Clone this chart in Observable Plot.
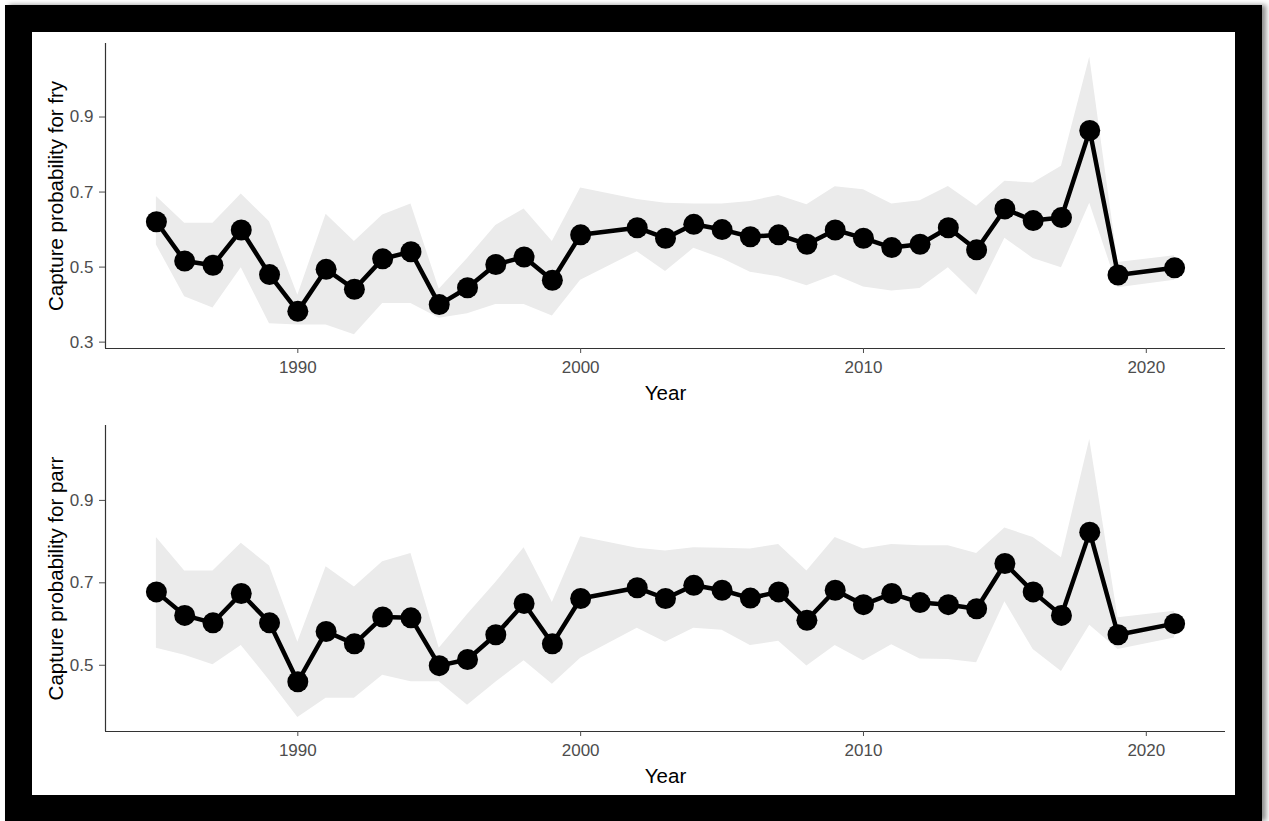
<!DOCTYPE html>
<html><head><meta charset="utf-8">
<script src="https://cdn.jsdelivr.net/npm/d3@7"></script>
<script src="https://cdn.jsdelivr.net/npm/@observablehq/plot@0.6"></script>
<style>
html,body{margin:0;padding:0;background:#fff;width:1269px;height:821px;overflow:hidden;}
#frame{position:absolute;left:5px;top:5px;width:1257px;height:816px;background:#000;box-shadow:4px 0 5px rgba(0,0,0,0.45);}
#panel{position:absolute;left:32px;top:32px;width:1203px;height:763px;background:#fff;}
#top{position:absolute;left:0;top:0;}
#bottom{position:absolute;left:0;top:378px;}
svg{font-family:"Liberation Sans",Arial,sans-serif;}
</style></head><body>
<div id="frame"></div>
<div id="panel"><div id="top"></div><div id="bottom"></div></div>
<script>
const years = [1985,1986,1987,1988,1989,1990,1991,1992,1993,1994,1995,1996,1997,1998,1999,2000,
  2002,2003,2004,2005,2006,2007,2008,2009,2010,2011,2012,2013,2014,2015,2016,2017,2018,2019,2021];

const fryMean  = [0.621,0.516,0.505,0.599,0.480,0.382,0.494,0.441,0.522,0.541,0.400,0.445,0.507,0.527,0.465,0.586,
  0.605,0.577,0.614,0.600,0.581,0.586,0.561,0.599,0.577,0.552,0.561,0.605,0.546,0.655,0.624,0.632,0.864,0.479,0.498];
const fryLower = [0.559,0.421,0.391,0.498,0.349,0.346,0.346,0.320,0.403,0.403,0.364,0.376,0.400,0.400,0.370,0.465,
  0.541,0.488,0.550,0.523,0.486,0.474,0.450,0.479,0.447,0.436,0.443,0.498,0.425,0.577,0.523,0.498,0.670,0.445,0.465];
const fryUpper = [0.688,0.617,0.617,0.695,0.621,0.425,0.641,0.568,0.639,0.668,0.441,0.523,0.611,0.655,0.568,0.711,
  0.680,0.670,0.668,0.668,0.675,0.691,0.666,0.714,0.706,0.668,0.677,0.715,0.662,0.729,0.724,0.769,1.059,0.512,0.530];

const parrMean  = [0.678,0.621,0.603,0.674,0.603,0.460,0.582,0.552,0.617,0.615,0.499,0.514,0.574,0.650,0.552,0.662,
  0.688,0.662,0.694,0.682,0.663,0.678,0.609,0.682,0.647,0.674,0.652,0.647,0.637,0.747,0.678,0.621,0.823,0.574,0.601];
const parrLower = [0.541,0.524,0.501,0.548,0.463,0.373,0.420,0.420,0.476,0.460,0.460,0.403,0.459,0.511,0.454,0.517,
  0.590,0.556,0.590,0.585,0.548,0.558,0.498,0.548,0.511,0.550,0.515,0.514,0.506,0.654,0.538,0.485,0.597,0.538,0.566];
const parrUpper = [0.810,0.729,0.729,0.796,0.741,0.556,0.739,0.690,0.751,0.771,0.541,0.623,0.701,0.785,0.652,0.812,
  0.784,0.777,0.785,0.784,0.782,0.793,0.729,0.810,0.782,0.793,0.790,0.790,0.771,0.833,0.810,0.761,1.048,0.615,0.631];

const xTicks = [1990, 2000, 2010, 2020];
const fryTicks = [0.3, 0.5, 0.7, 0.9];
const parrTicks = [0.5, 0.7, 0.9];
const xLabel = "Year";
const fryLabel = "Capture probability for fry";
const parrLabel = "Capture probability for parr";

function expand([a, b], f = 0.05) { const p = (b - a) * f; return [a - p, b + p]; }

function panel(mean, lower, upper, yTicks, yLabel, height, marginTop, marginBottom) {
  const data = years.map((y, i) => ({year: y, mean: mean[i], lo: lower[i], hi: upper[i]}));
  const xDomain = expand(d3.extent(years));
  const yDomain = expand([d3.min(lower), d3.max(upper)]);
  return Plot.plot({
    width: 1203, height, marginLeft: 73, marginRight: 10, marginTop, marginBottom,
    x: {domain: xDomain},
    y: {domain: yDomain},
    marks: [
      Plot.areaY(data, {x: "year", y1: "lo", y2: "hi", fill: "#ebebeb"}),
      Plot.lineY(data, {x: "year", y: "mean", stroke: "#000", strokeWidth: 4.5}),
      Plot.dot(data, {x: "year", y: "mean", r: 10.5, fill: "#000"}),
      Plot.ruleX([xDomain[0]], {stroke: "#333", strokeWidth: 1.2}),
      Plot.ruleY([yDomain[0]], {stroke: "#333", strokeWidth: 1.2}),
      Plot.axisX({ticks: xTicks, tickFormat: d3.format("d"), tickSize: 5, tickPadding: 7, fontSize: 17, color: "#4d4d4d", label: null}),
      Plot.axisY({ticks: yTicks, tickFormat: d3.format(".1f"), tickSize: 6, tickPadding: 6, fontSize: 17, color: "#4d4d4d", label: null}),
      Plot.text([xLabel], {text: d => d, frameAnchor: "bottom", lineAnchor: "middle", dy: 44.5, fontSize: 20.5, fill: "#000"}),
      Plot.text([yLabel], {text: d => d, frameAnchor: "left", rotate: -90, lineAnchor: "middle", textAnchor: "middle", dx: -49.5, fontSize: 20.5, fill: "#000"})
    ]
  });
}

document.getElementById("top").append(panel(fryMean, fryLower, fryUpper, fryTicks, fryLabel, 378, 11, 62));
document.getElementById("bottom").append(panel(parrMean, parrLower, parrUpper, parrTicks, parrLabel, 385, 15, 64));
</script>
</body></html>
